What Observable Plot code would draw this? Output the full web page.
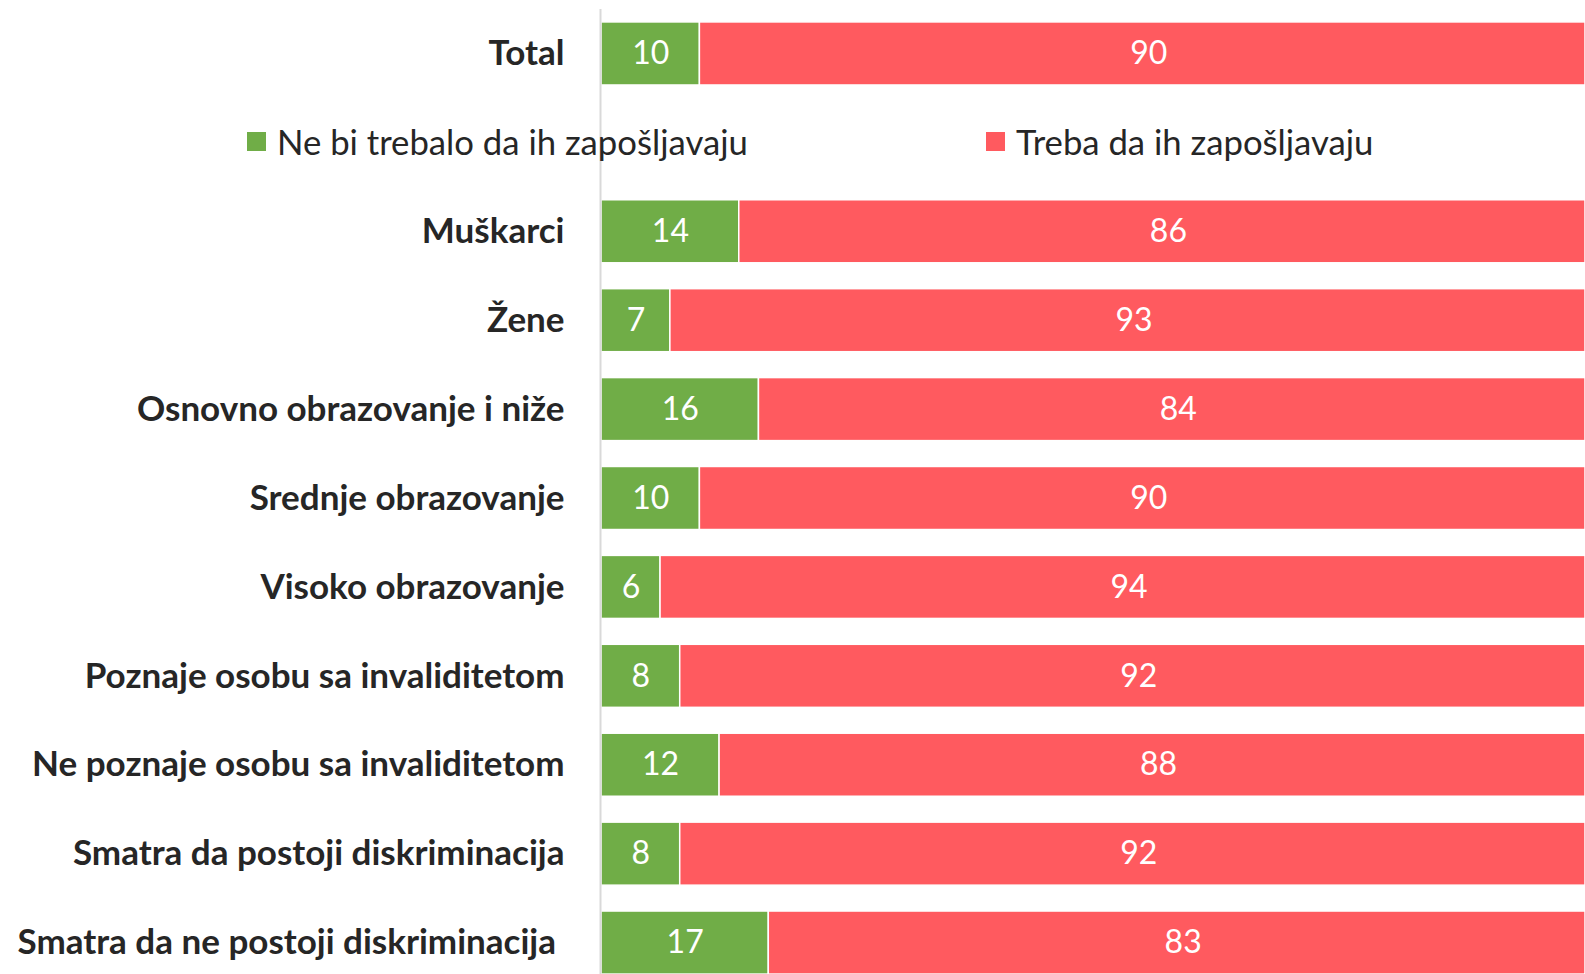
<!DOCTYPE html>
<html>
<head>
<meta charset="utf-8">
<script src="https://cdn.jsdelivr.net/npm/d3@7"></script>
<script src="https://cdn.jsdelivr.net/npm/@observablehq/plot@0.6"></script>
<style>
  html, body { margin: 0; padding: 0; background: #fff; }
  #wrap { position: relative; width: 1585px; height: 974px; overflow: hidden; }
  .leg { position: absolute; display: flex; align-items: center; font-family: Lato, "Open Sans", sans-serif; font-size: 34.7px; color: #262626; white-space: nowrap; }
  .sw { width: 19px; height: 19px; margin-right: 11px; flex: none; }
</style>
</head>
<body>
<div id="wrap"></div>
<script>
const categories = ["Total", " ", "Muškarci", "Žene", "Osnovno obrazovanje i niže", "Srednje obrazovanje", "Visoko obrazovanje", "Poznaje osobu sa invaliditetom", "Ne poznaje osobu sa invaliditetom", "Smatra da postoji diskriminacija", "Smatra da ne postoji diskriminacija"];
const seriesNames = ["Ne bi trebalo da ih zapošljavaju", "Treba da ih zapošljavaju"];
const notHire = [10, null, 14, 7, 16, 10, 6, 8, 12, 8, 17];
const hire = [90, null, 86, 93, 84, 90, 94, 92, 88, 92, 83];
const colors = ["#70AD47", "#FF5A5F"];

const rows = [];
categories.forEach((c, i) => {
  if (notHire[i] != null) rows.push({category: c, series: seriesNames[0], value: notHire[i]});
  if (hire[i] != null) rows.push({category: c, series: seriesNames[1], value: hire[i]});
});

const lastCat = categories[categories.length - 1];
const labelFor = s => d => d.series === s ? String(d.value) : "";
const stackOpts = {x: "value", y: "category", z: "series", fill: "white", fontSize: 32};

const chart = Plot.plot({
  width: 1585,
  height: 974,
  marginLeft: 601,
  marginRight: 0,
  marginTop: 9,
  marginBottom: 0,
  style: {fontFamily: "Lato, 'Open Sans', sans-serif", color: "#262626", background: "#fff", overflow: "visible"},
  x: {domain: [0, 100], axis: null},
  y: {domain: categories, range: [9, 987], round: false, paddingInner: 0.291, paddingOuter: 0.1455, label: null, axis: null},
  color: {domain: seriesNames, range: colors},
  marks: [
    Plot.barX(rows, {x: "value", y: "category", fill: "series", stroke: "white", strokeWidth: 1.5}),
    Plot.text(rows, Plot.stackX({...stackOpts, text: labelFor(seriesNames[0])})),
    Plot.text(rows, Plot.stackX({...stackOpts, text: labelFor(seriesNames[1]), dx: 6})),
    Plot.ruleX([0], {dx: -1, stroke: "#d9d9d9", strokeWidth: 2}),
    Plot.axisY({tickSize: 0, tickPadding: 37, fontSize: 35, fontWeight: "bold", label: null,
      tickFormat: d => d === lastCat ? d + "\u00a0" : d})
  ]
});
const wrap = document.getElementById("wrap");
wrap.append(chart);

// legend in the blank row
const legItems = [
  {name: seriesNames[0], color: colors[0], left: 247},
  {name: seriesNames[1], color: colors[1], left: 986}
];
for (const it of legItems) {
  const d = document.createElement("div");
  d.className = "leg";
  d.style.left = it.left + "px";
  d.style.top = "121px";
  d.style.height = "40px";
  const sw = document.createElement("span");
  sw.className = "sw";
  sw.style.background = it.color;
  const t = document.createElement("span");
  t.textContent = it.name;
  d.append(sw, t);
  wrap.append(d);
}
</script>
</body>
</html>
